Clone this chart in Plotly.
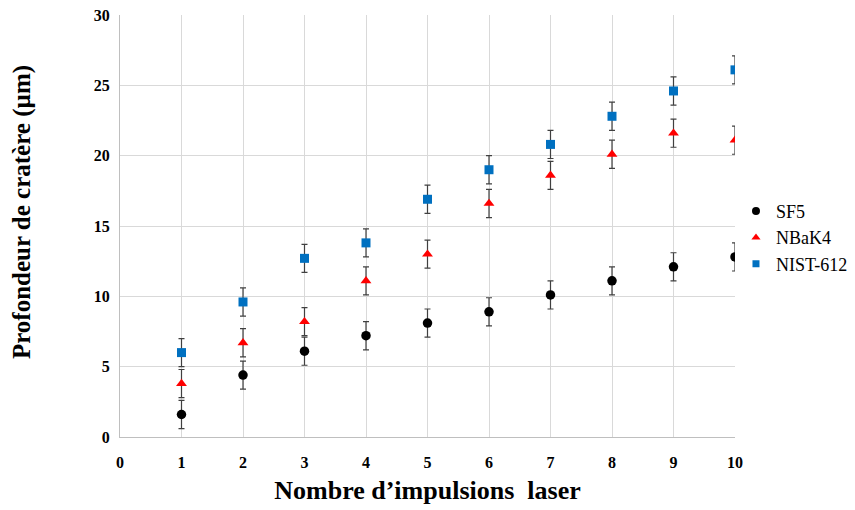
import plotly.graph_objects as go

x_vals = [1, 2, 3, 4, 5, 6, 7, 8, 9, 10]
sf5 = [1.6, 4.4, 6.1, 7.2, 8.1, 8.9, 10.1, 11.1, 12.1, 12.8]
nbak4 = [3.8, 6.7, 8.2, 11.1, 13.0, 16.6, 18.6, 20.1, 21.6, 21.1]
nist612 = [6.0, 9.6, 12.7, 13.8, 16.9, 19.0, 20.8, 22.8, 24.6, 26.1]
err = [1, 1, 1, 1, 1, 1, 1, 1, 1, 1]

series = [
    ("SF5", sf5, "circle", "#000000", 9.5, 8),
    ("NBaK4", nbak4, "triangle-up", "#FF0000", 9.5, 8),
    ("NIST-612", nist612, "square", "#0070C0", 9, 7),
]

font_family = "Liberation Serif"

fig = go.Figure()
for name, vals, sym, col, size, lsize in series:
    fig.add_trace(go.Scatter(
        x=x_vals, y=vals, mode="markers", name=name, showlegend=False,
        marker=dict(symbol=sym, color=col, size=size),
        error_y=dict(type="data", array=err, visible=True,
                     color="#404040", thickness=1.2, width=3),
    ))
for name, vals, sym, col, size, lsize in series:
    fig.add_trace(go.Scatter(
        x=[None], y=[None], mode="markers", name=name, showlegend=True,
        marker=dict(symbol=sym, color=col, size=lsize),
    ))

fig.update_layout(
    width=847, height=502,
    margin=dict(l=112, r=120, t=7, b=73, autoexpand=False),
    paper_bgcolor="white", plot_bgcolor="white",
    font=dict(family=font_family, color="black"),
    legend=dict(x=1.0016, y=0.472, xanchor="left", yanchor="middle",
                font=dict(size=18, family=font_family, color="black"),
                itemwidth=30, tracegroupgap=0, bgcolor="rgba(0,0,0,0)"),
    showlegend=True,
    annotations=[dict(
        text="Profondeur de cratère (µm)", textangle=-90,
        xref="paper", yref="paper", x=-0.1593, y=0.533,
        xanchor="center", yanchor="middle", showarrow=False,
        font=dict(size=25, family=font_family, weight="bold", color="black"),
    )],
)
fig.update_xaxes(
    range=[0, 10], dtick=1, tick0=0, automargin=False,
    showgrid=True, gridcolor="#D9D9D9", gridwidth=1,
    showline=True, linecolor="#BFBFBF", linewidth=1,
    zeroline=False, ticks="outside", ticklen=11, tickcolor="rgba(0,0,0,0)",
    ticklabeloverflow="allow",
    tickfont=dict(size=16, family=font_family, weight="bold"),
    title=dict(text="Nombre d’impulsions  laser", standoff=10,
               font=dict(size=26, family=font_family, weight="bold")),
)
fig.update_yaxes(
    range=[0, 30], dtick=5, tick0=0, automargin=False,
    showgrid=True, gridcolor="#D9D9D9", gridwidth=1,
    showline=True, linecolor="#BFBFBF", linewidth=1,
    zeroline=False, ticks="outside", ticklen=6, tickcolor="rgba(0,0,0,0)",
    ticklabeloverflow="allow",
    tickfont=dict(size=16, family=font_family, weight="bold"),
)

fig.write_html("out.html")
